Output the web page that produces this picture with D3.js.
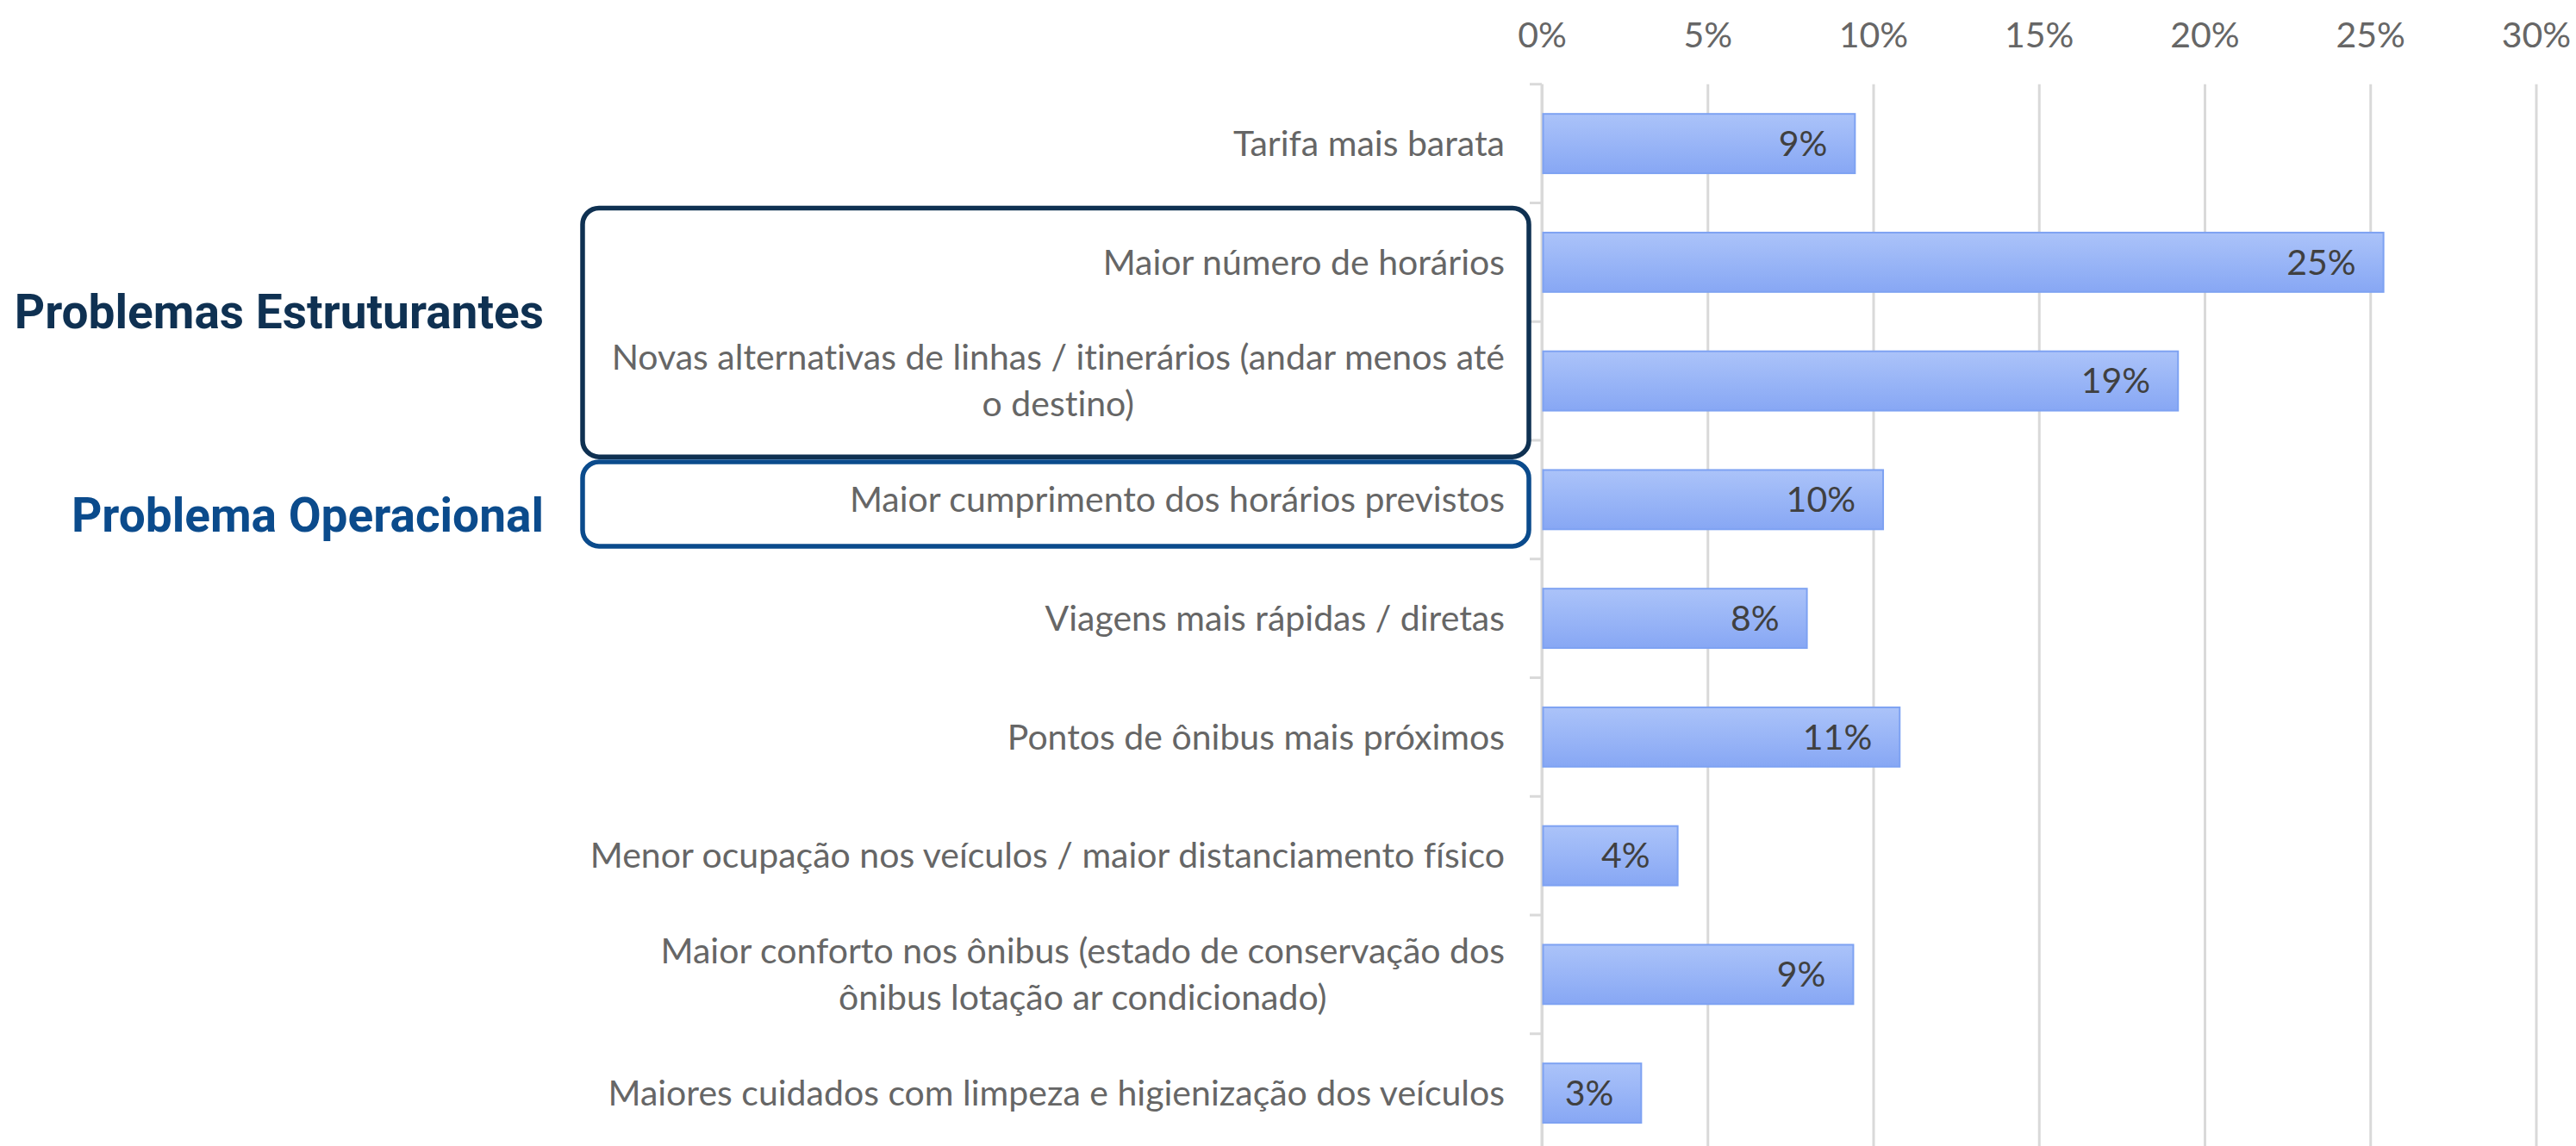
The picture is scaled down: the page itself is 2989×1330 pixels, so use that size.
<!DOCTYPE html>
<html>
<head>
  <meta charset="utf-8">
  <title>Melhorias desejadas no transporte</title>
  <style>
    body { margin: 0; background: #ffffff; }
    svg { display: block; }
    .cat-label, .tick-label, .value-label {
      font-family: Lato, "Open Sans", sans-serif;
      font-variant-ligatures: none;
    }
    .group-label { font-family: Roboto, Inter, sans-serif; font-weight: 700; }
  </style>
</head>
<body>
  <svg id="chart" width="2989" height="1330"></svg>

  <script src="https://d3js.org/d3.v7.min.js"></script>
  <script>
    // dados
    const categories = [
      "Tarifa mais barata",
      "Maior número de horários",
      "Novas alternativas de linhas / itinerários (andar menos até o destino)",
      "Maior cumprimento dos horários previstos",
      "Viagens mais rápidas / diretas",
      "Pontos de ônibus mais próximos",
      "Menor ocupação nos veículos / maior distanciamento físico",
      "Maior conforto nos ônibus (estado de conservação dos ônibus lotação ar condicionado)",
      "Maiores cuidados com limpeza e higienização dos veículos"
    ];
    // linhas como aparecem no gráfico
    const categoryLines = [
      ["Tarifa mais barata"],
      ["Maior número de horários"],
      ["Novas alternativas de linhas / itinerários (andar menos até", "o destino)"],
      ["Maior cumprimento dos horários previstos"],
      ["Viagens mais rápidas / diretas"],
      ["Pontos de ônibus mais próximos"],
      ["Menor ocupação nos veículos / maior distanciamento físico"],
      ["Maior conforto nos ônibus (estado de conservação dos", "ônibus lotação ar condicionado)"],
      ["Maiores cuidados com limpeza e higienização dos veículos"]
    ];
    const values = [9.45, 25.4, 19.2, 10.3, 8.0, 10.8, 4.1, 9.4, 3.0];
    const xTicks = [0, 5, 10, 15, 20, 25, 30];

    // grupos destacados
    const groupNames = ["Problemas Estruturantes", "Problema Operacional"];
    const groupFrom = [1, 3];
    const groupTo = [2, 3];

    const svg = d3.select("#chart");

    const plotTop = 97.75, plotBottom = 1337.5;
    const x0 = 1789, x1 = 2942.5;
    const fontPx = "41px";

    const x = d3.scaleLinear().domain([0, 30]).range([x0, x1]);
    const y = d3.scaleBand()
      .domain(categories)
      .range([plotTop, plotBottom])
      .paddingInner(0.5)
      .paddingOuter(0.25);

    const step = y.step(), bw = y.bandwidth();
    const center = i => y(categories[i]) + bw / 2;

    // gradiente das barras
    const defs = svg.append("defs");
    const grad = defs.append("linearGradient")
      .attr("id", "barGrad")
      .attr("x1", 0).attr("y1", 0).attr("x2", 0).attr("y2", 1);
    grad.append("stop").attr("offset", "0%").attr("stop-color", "#abc3f9");
    grad.append("stop").attr("offset", "100%").attr("stop-color", "#87a7f4");

    // eixo x com linhas de grade
    const xAxis = d3.axisTop(x)
      .tickValues(xTicks)
      .tickFormat(d => d + "%")
      .tickSizeInner(-(plotBottom - plotTop))
      .tickSizeOuter(0)
      .tickPadding(43);

    const gX = svg.append("g")
      .attr("transform", `translate(0,${plotTop})`)
      .call(xAxis);
    gX.select(".domain").remove();
    gX.selectAll(".tick line")
      .attr("stroke", "#d9d9d9")
      .attr("stroke-width", 3);
    gX.selectAll(".tick text")
      .attr("class", "tick-label")
      .attr("fill", "#666666")
      .style("font-size", fontPx);

    // eixo de categorias: linha e marcas entre as faixas
    const axisG = svg.append("g");
    const boundaries = d3.range(categories.length + 1)
      .map(i => y(categories[0]) - (step - bw) / 2 + i * step);
    axisG.selectAll("line.cat-tick")
      .data(boundaries)
      .join("line")
      .attr("class", "cat-tick")
      .attr("x1", x0 - 14).attr("x2", x0)
      .attr("y1", d => d).attr("y2", d => d)
      .attr("stroke", "#d9d9d9")
      .attr("stroke-width", 3);
    axisG.append("line")
      .attr("x1", x0).attr("x2", x0)
      .attr("y1", plotTop).attr("y2", plotBottom)
      .attr("stroke", "#d9d9d9")
      .attr("stroke-width", 3);

    // barras
    svg.append("g")
      .selectAll("rect")
      .data(values)
      .join("rect")
      .attr("x", x(0) + 1.5)
      .attr("y", (d, i) => y(categories[i]))
      .attr("width", d => x(d) - x(0) - 1.5)
      .attr("height", bw)
      .attr("fill", "url(#barGrad)")
      .attr("stroke", "#7ea2f2")
      .attr("stroke-width", 2);

    // rótulos de valor
    svg.append("g")
      .selectAll("text")
      .data(values)
      .join("text")
      .attr("class", "value-label")
      .attr("x", d => x(d) - 32)
      .attr("y", (d, i) => center(i))
      .attr("dy", "0.35em")
      .attr("text-anchor", "end")
      .attr("fill", "#404040")
      .style("font-size", fontPx)
      .text(d => Math.round(d) + "%");

    // rótulos das categorias
    const labelRight = 1746;
    const lineH = 54;
    const catG = svg.append("g");
    categoryLines.forEach((lines, i) => {
      const t = catG.append("text")
        .attr("class", "cat-label")
        .attr("fill", "#666666")
        .style("font-size", fontPx);
      lines.forEach((ln, k) => {
        t.append("tspan")
          .attr("y", center(i) + (k - (lines.length - 1) / 2) * lineH)
          .attr("dy", "0.35em")
          .text(ln);
      });
      // linha mais longa alinhada à direita, as outras centralizadas
      let maxW = 0;
      t.selectAll("tspan").each(function () {
        maxW = Math.max(maxW, this.getComputedTextLength());
      });
      t.attr("text-anchor", "middle");
      t.selectAll("tspan").attr("x", labelRight - maxW / 2);
    });

    // caixas de destaque
    const boxLeft = 676, boxRight = 1774;
    const boxTop = [center(groupFrom[0]) - 63, center(groupFrom[1]) - 44];
    const boxBottom = [center(groupTo[0]) + 88, center(groupTo[1]) + 54];
    const boxColors = ["#0f3152", "#0b4b8c"];
    const labelBase = [381, 617];

    groupNames.forEach((name, g) => {
      svg.append("rect")
        .attr("x", boxLeft)
        .attr("y", boxTop[g])
        .attr("width", boxRight - boxLeft)
        .attr("height", boxBottom[g] - boxTop[g])
        .attr("rx", 19)
        .attr("fill", "none")
        .attr("stroke", boxColors[g])
        .attr("stroke-width", 5.5);

      svg.append("text")
        .attr("class", "group-label")
        .attr("x", 631)
        .attr("y", labelBase[g])
        .attr("text-anchor", "end")
        .attr("fill", boxColors[g])
        .style("font-size", "55px")
        .text(name);
    });
  </script>
</body>
</html>
